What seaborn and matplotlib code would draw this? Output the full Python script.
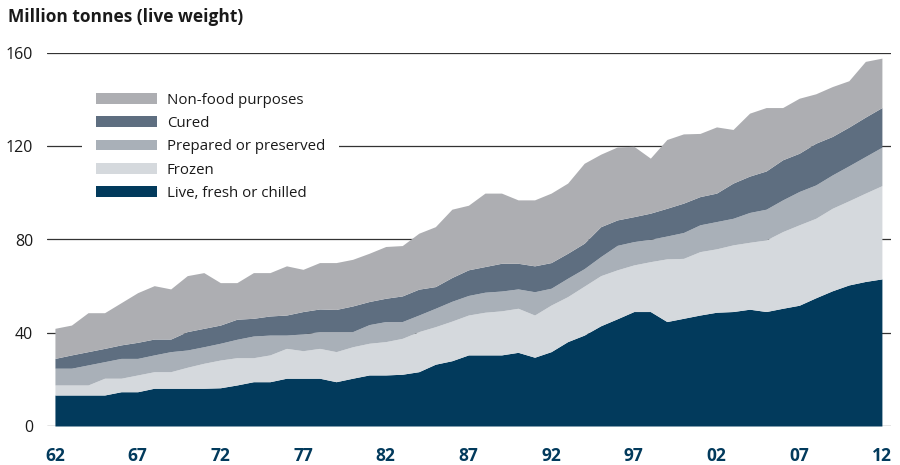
import numpy as np
import pandas as pd
import matplotlib
matplotlib.use("Agg")
import matplotlib.pyplot as plt
import seaborn as sns
from matplotlib.patches import Patch

years = list(range(1962, 2013))

live = [13.3, 13.3, 13.3, 13.3, 14.7, 14.7, 16.2, 16.2, 16.2, 16.2,
        16.4, 17.6, 19.0, 19.0, 20.5, 20.5, 20.5, 19.0, 20.5, 21.9,
        21.9, 22.2, 23.3, 26.5, 28.0, 30.5, 30.5, 30.5, 31.6, 29.5,
        31.9, 36.2, 39.0, 43.0, 46.0, 49.1, 49.1, 44.8, 46.2, 47.6,
        48.8, 49.1, 50.1, 49.1, 50.5, 51.8, 55.0, 58.0, 60.5, 62.0, 63.1]
frozen = [4.3, 4.3, 4.3, 7.2, 5.8, 7.2, 7.1, 7.1, 9.0, 10.7,
          11.9, 11.7, 10.3, 11.5, 12.8, 11.8, 12.8, 12.9, 13.5, 13.6,
          14.3, 15.4, 17.2, 16.1, 17.0, 17.1, 18.3, 18.9, 18.9, 18.1,
          20.0, 19.3, 21.0, 21.5, 21.0, 20.0, 21.4, 26.9, 25.7, 27.2,
          27.2, 28.6, 28.7, 30.7, 32.9, 34.5, 34.1, 35.4, 36.1, 37.9, 40.0]
prepared = [7.2, 7.2, 8.6, 7.1, 8.5, 7.1, 7.2, 8.6, 7.4, 7.1,
            7.2, 7.9, 9.3, 8.5, 5.7, 7.2, 7.2, 8.6, 6.5, 8.0,
            8.6, 7.2, 7.1, 7.9, 8.5, 8.4, 8.6, 8.5, 8.3, 10.0,
            7.2, 7.9, 7.5, 8.2, 10.5, 10.0, 9.6, 9.8, 11.1, 11.5,
            11.7, 11.4, 12.8, 13.2, 13.6, 14.3, 14.3, 14.3, 15.0, 15.7, 16.5]
cured = [4.2, 5.7, 5.7, 5.7, 5.8, 6.9, 6.8, 5.4, 7.9, 7.9,
         7.8, 8.6, 7.6, 8.2, 8.6, 9.6, 9.7, 9.5, 11.0, 9.9,
         10.0, 11.0, 11.1, 9.3, 10.2, 11.0, 11.0, 11.9, 11.0, 11.1,
         11.0, 10.7, 10.9, 12.8, 10.9, 10.7, 11.2, 11.9, 12.6, 12.1,
         12.2, 15.1, 15.6, 16.4, 17.2, 16.4, 17.9, 16.5, 16.6, 16.9, 17.0]
nonfood = [12.9, 12.8, 16.7, 15.3, 18.1, 21.3, 22.9, 21.5, 24.0, 23.9,
           18.2, 15.7, 19.6, 18.6, 21.1, 18.1, 19.9, 20.1, 20.0, 20.7,
           22.2, 21.6, 24.0, 25.7, 29.3, 27.7, 31.5, 30.1, 27.2, 28.3,
           29.8, 30.1, 34.3, 31.1, 31.3, 30.2, 23.6, 29.5, 29.7, 27.1,
           28.4, 23.0, 27.0, 27.2, 22.4, 23.6, 21.2, 21.4, 19.9, 23.9, 21.2]

labels = ["Live, fresh or chilled", "Frozen", "Prepared or preserved",
          "Cured", "Non-food purposes"]
colors = ["#023a5c", "#d5d9dd", "#a9b0b8", "#5e6e80", "#adaeb2"]

df = pd.DataFrame({"year": years, labels[0]: live, labels[1]: frozen,
                   labels[2]: prepared, labels[3]: cured, labels[4]: nonfood})

sns.set_theme(style="white")
plt.rcParams["font.family"] = ["Open Sans", "DejaVu Sans"]

fig = plt.figure(figsize=(9, 4.65), dpi=100)
ax = fig.add_axes([47 / 900, 39 / 465, 844 / 900, 373 / 465])

for v in [0, 40, 80, 120, 160]:
    ax.axhline(v, color="#333333", lw=0.9, zorder=0)

ax.stackplot(df["year"], [df[l] for l in labels], colors=colors,
             linewidth=0, zorder=2)

ax.set_xlim(1961.52, 2012.55)
ax.set_ylim(0, 160)
ax.set_xticks(range(1962, 2013, 5))
ax.set_xticklabels([f"{y % 100:02d}" for y in range(1962, 2013, 5)],
                   fontsize=12.5, fontweight="bold", color="#023a5c")
ax.set_yticks([0, 40, 80, 120, 160])
ax.set_yticklabels(["0", "40", "80", "120", "160"], fontsize=11.5,
                   color="#1a1a1a")
ax.tick_params(axis="x", length=0, pad=15)
ax.tick_params(axis="y", length=0, pad=10)
for s in ax.spines.values():
    s.set_visible(False)
ax.patch.set_alpha(0)

handles = [Patch(facecolor=c, edgecolor="none") for c in colors][::-1]
leg = ax.legend(handles, labels[::-1], loc="upper left",
                bbox_to_anchor=(82 / 900, 1 - 79 / 465),
                bbox_transform=fig.transFigure, fontsize=10.8,
                frameon=True, facecolor="white", edgecolor="none",
                framealpha=1, handlelength=4.1, handleheight=0.73,
                handletextpad=0.65, labelspacing=0.56, borderpad=0.9,
                borderaxespad=0)
leg.get_frame().set_boxstyle("square", pad=0)
leg.set_zorder(3)
for t in leg.get_texts():
    t.set_color("#1a1a1a")

fig.text(8 / 900, 1 - 17 / 465, "Million tonnes (live weight)",
         fontsize=12.5, fontweight="bold", color="#1a1a1a", va="center")

fig.savefig("out.png", dpi=100)
